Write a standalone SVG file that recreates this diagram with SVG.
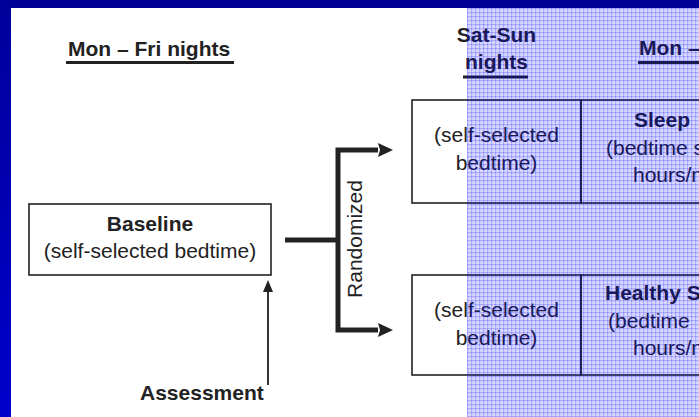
<svg xmlns="http://www.w3.org/2000/svg" width="699" height="417" viewBox="0 0 699 417">
<style>
text{font-family:"Liberation Sans",Arial,sans-serif;font-size:21px;fill:#222}
.b{font-weight:bold}
.m{text-anchor:middle}
.box{fill:none;stroke:#222;stroke-width:1.6}
.ul{fill:#222}
.thick{fill:none;stroke:#222;stroke-width:5;stroke-linejoin:miter}
.thin{fill:none;stroke:#333;stroke-width:2}
</style>
<defs>
<linearGradient id="lb" x1="0" y1="0" x2="0" y2="1">
<stop offset="0" stop-color="#00009a"/>
<stop offset="1" stop-color="#0000cc"/>
</linearGradient>
<pattern id="grid" patternUnits="userSpaceOnUse" x="467" y="8" width="4" height="4">
<rect width="4" height="4" fill="#0000ff" fill-opacity="0.15"/>
<rect width="4" height="1.2" fill="#0000ff" fill-opacity="0.2"/>
<rect width="1.2" height="4" fill="#0000ff" fill-opacity="0.2"/>
</pattern>
<marker id="ah" markerUnits="userSpaceOnUse" markerWidth="16" markerHeight="16" refX="0" refY="7" orient="auto-start-reverse">
<path d="M0,0 L15,7 L0,14 L2,7 z" fill="#222"/>
</marker>
<marker id="ahs" markerUnits="userSpaceOnUse" markerWidth="12" markerHeight="12" refX="0" refY="5" orient="auto">
<path d="M0,0 L12,5 L0,10 z" fill="#222"/>
</marker>
</defs>
<rect width="699" height="417" fill="#fff"/>
<rect x="0" y="0" width="699" height="8" fill="#000096"/>
<rect x="0" y="0" width="11" height="417" fill="url(#lb)"/>

<g id="heading-mon-fri">
<text class="b" x="68" y="56">Mon – Fri nights</text>
<rect class="ul" x="66" y="61" width="168" height="3"/>
</g>
<g id="heading-sat-sun">
<text class="b m" x="496.5" y="42">Sat-Sun</text>
<text class="b m" x="496.5" y="69">nights</text>
<rect class="ul" x="463" y="75.5" width="65" height="3"/>
</g>
<g id="heading-mon-right">
<text class="b" x="639" y="55">Mon –</text>
<rect class="ul" x="638" y="61" width="61" height="3"/>
</g>

<g id="baseline">
<rect class="box" x="29" y="204" width="242" height="71"/>
<text class="b m" x="150" y="231">Baseline</text>
<text class="m" x="150" y="258">(self-selected bedtime)</text>
</g>
<g id="assessment">
<text class="b" x="140" y="400">Assessment</text>
</g>

<g id="top-weekend">
<rect class="box" x="412" y="100" width="169" height="103"/>
<text class="m" x="496.5" y="142">(self-selected</text>
<text class="m" x="496.5" y="170">bedtime)</text>
</g>
<g id="top-sleep">
<rect class="box" x="581" y="100" width="140" height="103"/>
<text class="b" x="634" y="127">Sleep</text>
<text x="606" y="155">(bedtime s</text>
<text x="633" y="182">hours/n</text>
</g>
<g id="bottom-weekend">
<rect class="box" x="412" y="275" width="169" height="100"/>
<text class="m" x="496.5" y="317">(self-selected</text>
<text class="m" x="496.5" y="345">bedtime)</text>
</g>
<g id="bottom-healthy">
<rect class="box" x="581" y="275" width="140" height="100"/>
<text class="b" x="605" y="300">Healthy S</text>
<text x="608" y="328">(bedtime</text>
<text x="633" y="355">hours/n</text>
</g>

<g id="connectors">
<path class="thick" d="M285,240 H338"/>
<path class="thick" d="M378,150 H338 V330 H378" marker-start="url(#ah)" marker-end="url(#ah)"/>
<text transform="translate(362,239) rotate(-90)" class="m">Randomized</text>
<path class="thin" d="M268,385 V292" marker-end="url(#ahs)"/>
</g>

<rect x="467" y="8" width="232" height="409" fill="url(#grid)"/>
</svg>
